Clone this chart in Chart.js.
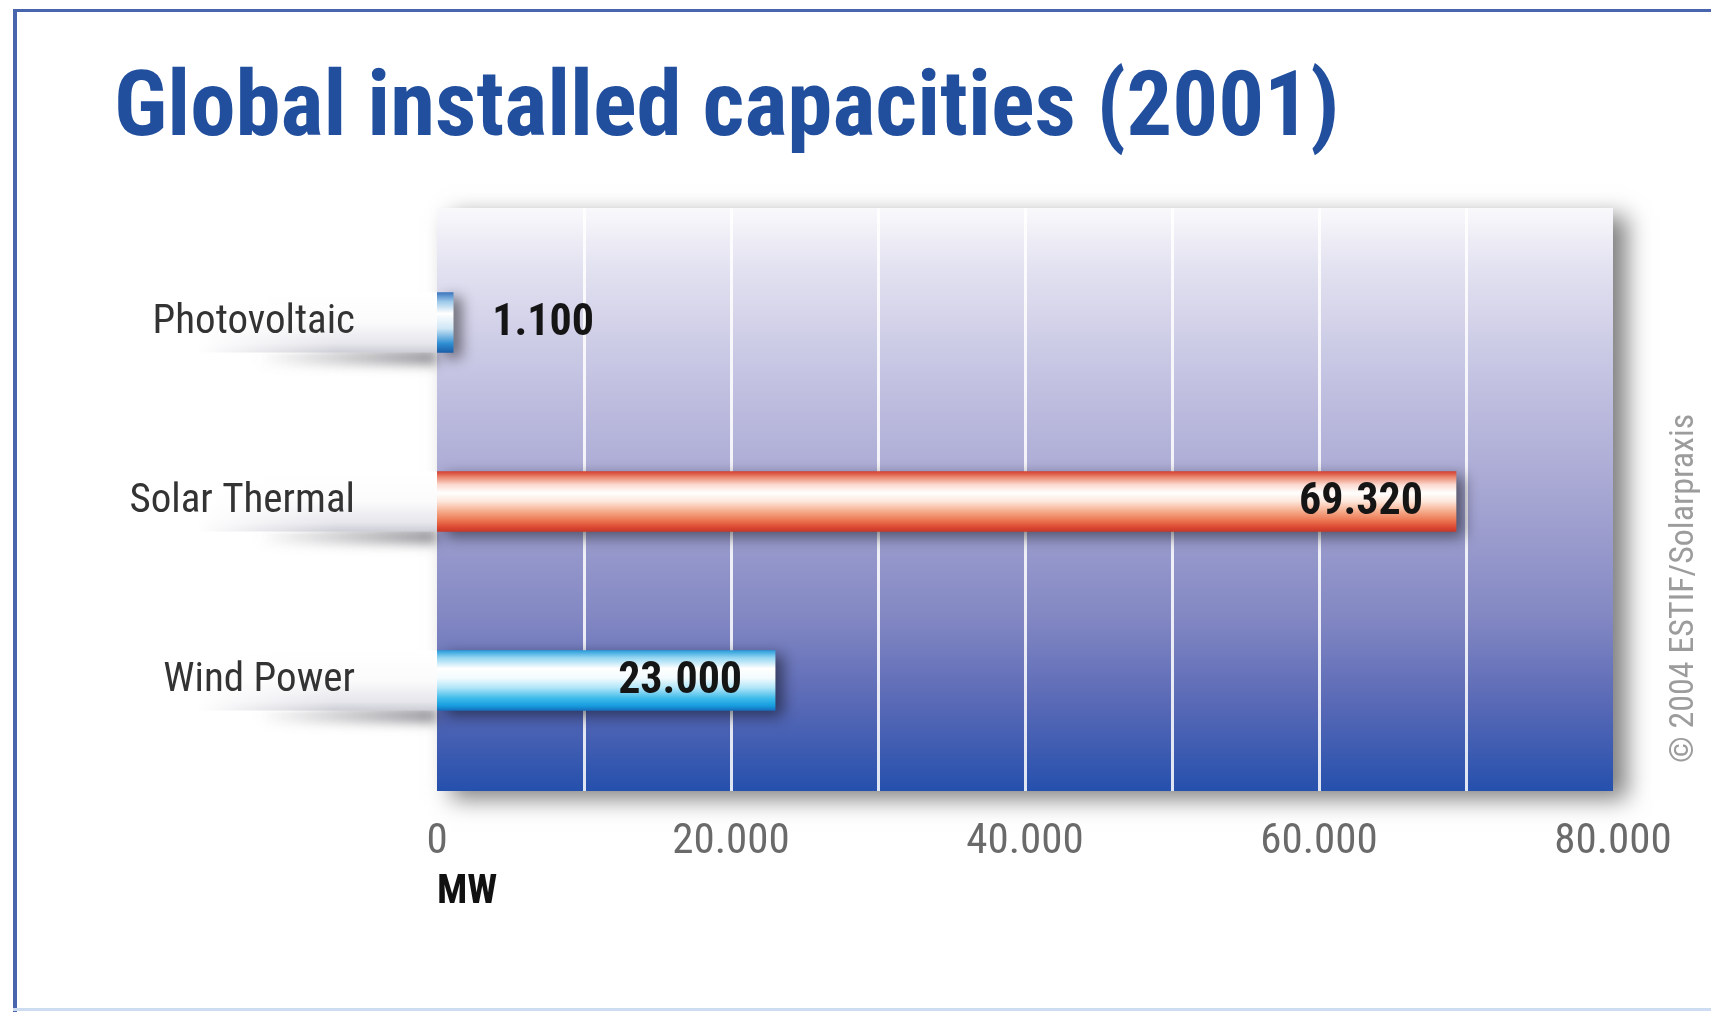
<!DOCTYPE html>
<html>
<head>
<meta charset="utf-8">
<script src="https://cdn.jsdelivr.net/npm/chart.js@4/dist/chart.umd.min.js"></script>
<style>
  html, body { margin: 0; padding: 0; background: #ffffff; }
  #wrap { width: 1711px; height: 1012px; position: relative; }
  canvas { display: block; }
</style>
</head>
<body>
<div id="wrap"><canvas id="c" width="1711" height="1012"></canvas></div>
<script>
// ---- data ----
const chartTitle = 'Global installed capacities (2001)';
const categories = ['Photovoltaic', 'Solar Thermal', 'Wind Power'];
const capacities = [1100, 69320, 23000];
const axisUnit = 'MW';
const axisMin = 0;
const axisMax = 80000;
const gridStep = 10000;
const labelStep = 20000;
const creditText = '\u00A9 2004 ESTIF/Solarpraxis';

// ---- styling ----
const NARROW = "'Roboto Condensed', 'Liberation Sans Narrow', Roboto, sans-serif";
const barStops = [
  [[0, '#3b76bf'], [0.15, '#9cc8ea'], [0.35, '#ffffff'], [0.6, '#cfe6f5'], [0.85, '#2f8fd3'], [1, '#1b5ea9']],
  [[0, '#d3402f'], [0.1, '#ec8c75'], [0.22, '#fbd9cf'], [0.36, '#ffffff'], [0.5, '#fde6da'], [0.66, '#f5ad8d'], [0.82, '#ec7450'], [0.93, '#dc4832'], [1, '#c7392a']],
  [[0, '#2a9cdb'], [0.12, '#93d6f2'], [0.3, '#ffffff'], [0.46, '#f3fbfe'], [0.62, '#b0e5f8'], [0.8, '#3cbaea'], [0.92, '#179ddf'], [1, '#166fbe']]
];
const BAR_THICK = 60;
const PAD_BOTTOM = 99;

function fmt(v) {
  return String(v).replace(/\B(?=(\d{3})+(?!\d))/g, '.');
}

function barGradient(ctx) {
  const chart = ctx.chart;
  if (!chart.chartArea || !chart.scales.y) return '#888';
  const y = chart.scales.y.getPixelForValue(ctx.dataIndex);
  const g = chart.ctx.createLinearGradient(0, y - BAR_THICK / 2, 0, y + BAR_THICK / 2);
  barStops[ctx.dataIndex].forEach(s => g.addColorStop(s[0], s[1]));
  return g;
}

const decorPlugin = {
  id: 'decor',
  beforeDraw(chart) {
    const ctx = chart.ctx;
    const area = chart.chartArea;
    const xs = chart.scales.x;
    const ys = chart.scales.y;
    const pTop = area.top - 25;
    const pBot = area.bottom + 21;
    ctx.save();
    ctx.fillStyle = '#ffffff';
    ctx.fillRect(0, 0, chart.width, chart.height);
    // frame
    ctx.fillStyle = '#4865ae';
    ctx.fillRect(13, 9, chart.width - 13, 3);
    ctx.fillRect(13, 9, 4, chart.height - 9);
    ctx.fillStyle = '#cddcf0';
    ctx.fillRect(13, chart.height - 4, chart.width - 13, 3);

    // panel with shadow
    const pg = ctx.createLinearGradient(0, pTop, 0, pBot);
    pg.addColorStop(0, '#f9f9fc');
    pg.addColorStop(0.1, '#e3e2f1');
    pg.addColorStop(0.3, '#c2c1e1');
    pg.addColorStop(0.5, '#a5a5d2');
    pg.addColorStop(0.7, '#8388c3');
    pg.addColorStop(0.85, '#5969b6');
    pg.addColorStop(1, '#2550ad');
    ctx.save();
    ctx.shadowColor = 'rgba(0,0,0,0.5)';
    ctx.shadowBlur = 22;
    ctx.shadowOffsetX = 14;
    ctx.shadowOffsetY = 8;
    ctx.fillStyle = pg;
    ctx.fillRect(area.left, pTop, area.right - area.left, pBot - pTop);
    ctx.restore();
    ctx.fillStyle = pg;
    ctx.fillRect(area.left, pTop, area.right - area.left, pBot - pTop);

    // grid lines
    ctx.strokeStyle = 'rgba(255,255,255,0.85)';
    ctx.lineWidth = 3;
    xs.ticks.forEach(t => {
      if (t.value <= axisMin || t.value >= axisMax) return;
      const x = Math.round(xs.getPixelForValue(t.value)) + 0.5;
      ctx.beginPath();
      ctx.moveTo(x, pTop);
      ctx.lineTo(x, pBot);
      ctx.stroke();
    });

    // tubes to the left of the panel
    categories.forEach((c, i) => {
      const y = ys.getPixelForValue(i);
      const t = y - BAR_THICK / 2, b = y + BAR_THICK / 2;
      const x0 = area.left - 240, x1 = area.left;
      const sg = ctx.createLinearGradient(x0 + 60, 0, x1, 0);
      sg.addColorStop(0, 'rgba(60,60,70,0)');
      sg.addColorStop(1, 'rgba(60,60,70,0.6)');
      ctx.save();
      ctx.filter = 'blur(6px)';
      ctx.fillStyle = sg;
      ctx.fillRect(x0 + 60, b - 2, x1 - x0 - 60, 14);
      ctx.restore();
      const tg = ctx.createLinearGradient(0, t, 0, b);
      tg.addColorStop(0, '#ffffff');
      tg.addColorStop(0.5, '#fbfbfc');
      tg.addColorStop(0.85, '#e6e6ec');
      tg.addColorStop(1, '#cdcdd6');
      ctx.fillStyle = tg;
      ctx.fillRect(x0, t, x1 - x0, b - t);
      const fade = ctx.createLinearGradient(x0, 0, x0 + 140, 0);
      fade.addColorStop(0, 'rgba(255,255,255,1)');
      fade.addColorStop(1, 'rgba(255,255,255,0)');
      ctx.fillStyle = fade;
      ctx.fillRect(x0 - 2, t - 2, 142, b - t + 4);
    });

    // credit
    ctx.save();
    ctx.translate(1684, 763);
    ctx.rotate(-Math.PI / 2);
    ctx.font = '34px ' + NARROW;
    ctx.fillStyle = '#9c9c9c';
    ctx.textAlign = 'left';
    ctx.textBaseline = 'middle';
    ctx.fillText(creditText, 0, 0);
    ctx.restore();

    ctx.restore();
  },
  beforeDatasetsDraw(chart) {
    const ctx = chart.ctx;
    ctx.save();
    ctx.shadowColor = 'rgba(0,0,0,0.5)';
    ctx.shadowBlur = 14;
    ctx.shadowOffsetX = 8;
    ctx.shadowOffsetY = 5;
  },
  afterDatasetsDraw(chart) {
    const ctx = chart.ctx;
    ctx.restore();
    const meta = chart.getDatasetMeta(0);
    ctx.save();
    ctx.font = 'bold 44px ' + NARROW;
    ctx.fillStyle = '#151515';
    ctx.textBaseline = 'middle';
    meta.data.forEach((bar, i) => {
      const v = chart.data.datasets[0].data[i];
      const txt = fmt(v);
      const w = ctx.measureText(txt).width;
      if (bar.x - bar.base > w + 60) {
        ctx.textAlign = 'right';
        ctx.fillText(txt, bar.x - 33, bar.y + 1);
      } else {
        ctx.textAlign = 'left';
        ctx.fillText(txt, bar.x + 39, bar.y + 1);
      }
    });
    ctx.restore();
  }
};

new Chart(document.getElementById('c'), {
  type: 'bar',
  data: {
    labels: categories,
    datasets: [{
      data: capacities,
      backgroundColor: barGradient,
      borderWidth: 0,
      barThickness: BAR_THICK
    }]
  },
  options: {
    indexAxis: 'y',
    responsive: false,
    animation: false,
    devicePixelRatio: 1,
    layout: { padding: { left: 114, right: 98, top: 67, bottom: PAD_BOTTOM } },
    plugins: {
      legend: { display: false },
      tooltip: { enabled: false },
      title: {
        display: true,
        text: chartTitle,
        align: 'start',
        color: '#214f9e',
        font: { family: NARROW, size: 91, weight: 'bold', lineHeight: 1 },
        padding: { top: 0, bottom: 75 }
      }
    },
    scales: {
      x: {
        min: axisMin,
        max: axisMax,
        grid: { display: false, drawTicks: false },
        border: { display: false },
        ticks: {
          stepSize: gridStep,
          autoSkip: false,
          maxRotation: 0,
          padding: 51,
          color: '#6a6a6a',
          font: { family: NARROW, size: 43, lineHeight: 1 },
          callback: (v) => (v % labelStep === 0 ? fmt(v) : '')
        },
        title: {
          display: true,
          text: axisUnit,
          align: 'start',
          color: '#111111',
          font: { family: NARROW, size: 40, weight: 'bold', lineHeight: 1 },
          padding: { top: 0, bottom: 0 }
        },
        afterFit: (s) => { s.height = 1012 - PAD_BOTTOM - 770; s.paddingLeft = 0; s.paddingRight = 0; }
      },
      y: {
        grid: { display: false, drawTicks: false },
        border: { display: false },
        ticks: {
          padding: 82,
          color: '#333333',
          font: { family: NARROW, size: 41, lineHeight: 1 }
        },
        afterFit: (s) => { s.width = 437 - 114; s.paddingTop = 0; s.paddingBottom = 0; }
      }
    }
  },
  plugins: [decorPlugin]
});
</script>
</body>
</html>
